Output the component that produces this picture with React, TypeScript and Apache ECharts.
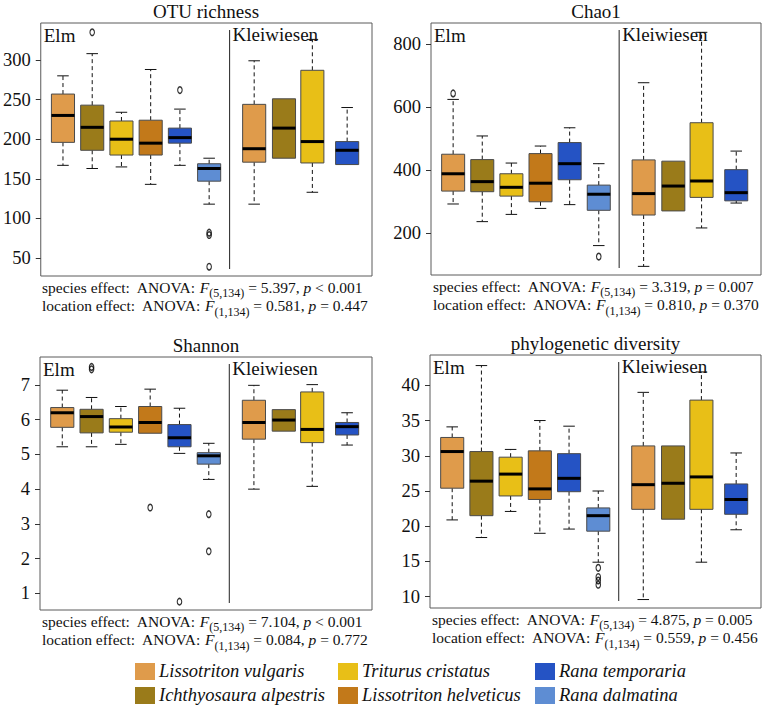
import React, { useEffect, useRef } from 'react';
import * as echarts from 'echarts';

const species = [
  'Lissotriton vulgaris',
  'Ichthyosaura alpestris',
  'Triturus cristatus',
  'Lissotriton helveticus',
  'Rana temporaria',
  'Rana dalmatina',
];
const speciesColors = ['#DF9B4B', '#9A7B1A', '#E8BF17', '#C2791A', '#2553C4', '#5E8DD3'];

const elmSpecies = [0, 1, 2, 3, 4, 5];
const kleiSpecies = [0, 1, 2, 4];
const elmPositions = [1, 2, 3, 4, 5, 6];
const kleiPositions = [7.54, 8.56, 9.53, 10.72];
const dividerPosition = 6.7;

// [min, Q1, median, Q3, max]
const otuElm = [
  [167, 196, 230, 257, 280],
  [163, 186, 215, 243, 308],
  [165, 180, 200, 223, 234],
  [143, 180, 195, 224, 288],
  [167, 195, 202, 214, 238],
  [118, 147, 163, 169, 176],
];
const otuKlei = [
  [118, 171, 188, 244, 299],
  [176, 176, 214, 251, 251],
  [133, 170, 197, 287, 326],
  [168, 168, 186, 197, 240],
];
// [box index (0-5 Elm, 6-9 Kleiwiesen), value]
const otuOutliers = [[1, 335], [4, 262], [5, 82], [5, 79], [5, 39]];
const otuTicks = [50, 100, 150, 200, 250, 300];
const otuStats = ['5.397', '< 0.001', '0.581', '= 0.447'];

const chaoElm = [
  [293, 334, 389, 451, 625],
  [237, 332, 364, 434, 509],
  [260, 318, 346, 389, 423],
  [279, 300, 359, 453, 477],
  [291, 370, 421, 488, 535],
  [161, 273, 324, 353, 421],
];
const chaoKlei = [
  [95, 258, 326, 433, 678],
  [271, 271, 350, 429, 429],
  [217, 314, 366, 551, 838],
  [296, 303, 329, 402, 461],
];
const chaoOutliers = [[0, 644], [5, 126]];
const chaoTicks = [200, 400, 600, 800];
const chaoStats = ['3.319', '= 0.007', '0.810', '= 0.370'];

const shannonElm = [
  [5.22, 5.78, 6.2, 6.35, 6.85],
  [5.22, 5.62, 6.09, 6.3, 6.64],
  [5.29, 5.64, 5.79, 6.03, 6.38],
  [5.61, 5.61, 5.92, 6.38, 6.88],
  [5.03, 5.22, 5.48, 5.86, 6.33],
  [4.28, 4.72, 4.96, 5.05, 5.32],
];
const shannonKlei = [
  [4.0, 5.44, 5.92, 6.56, 6.99],
  [5.67, 5.67, 5.99, 6.29, 6.29],
  [4.08, 5.34, 5.72, 6.8, 7.01],
  [5.27, 5.56, 5.8, 5.92, 6.2],
];
const shannonOutliers = [[1, 7.45], [1, 7.52], [3, 3.47], [4, 0.76], [5, 3.28], [5, 2.21]];
const shannonTicks = [1, 2, 3, 4, 5, 6, 7];
const shannonStats = ['7.104', '< 0.001', '0.084', '= 0.772'];

const pdElm = [
  [20.9, 25.4, 30.6, 32.6, 34.1],
  [18.4, 21.5, 26.4, 30.6, 42.8],
  [22.1, 24.3, 27.4, 29.8, 30.9],
  [19.0, 23.8, 25.3, 30.7, 35.0],
  [19.6, 24.9, 26.8, 30.3, 34.2],
  [14.9, 19.3, 21.5, 22.6, 25.0],
];
const pdKlei = [
  [9.6, 22.4, 25.9, 31.4, 39.0],
  [21.0, 21.0, 26.1, 31.4, 31.4],
  [14.9, 22.4, 27.0, 37.9, 41.9],
  [19.5, 21.7, 23.8, 26.0, 30.4],
];
const pdOutliers = [[5, 14.1], [5, 12.8], [5, 12.3], [5, 11.7]];
const pdTicks = [10, 15, 20, 25, 30, 35, 40];
const pdStats = ['4.875', '= 0.005', '0.559', '= 0.456'];

const SERIF = '"Liberation Serif", "Times New Roman", "DejaVu Serif", serif';

const panels = [
  { title: 'OTU richness', elm: otuElm, klei: otuKlei, outliers: otuOutliers, ticks: otuTicks, stats: otuStats,
    grid: { left: 40, top: 23, width: 332, height: 253 }, yMin: 27.3, yMax: 346.7 },
  { title: 'Chao1', elm: chaoElm, klei: chaoKlei, outliers: chaoOutliers, ticks: chaoTicks, stats: chaoStats,
    grid: { left: 431, top: 23, width: 330, height: 252 }, yMin: 67.6, yMax: 867.6 },
  { title: 'Shannon', elm: shannonElm, klei: shannonKlei, outliers: shannonOutliers, ticks: shannonTicks, stats: shannonStats,
    grid: { left: 40, top: 357, width: 332, height: 253 }, yMin: 0.519, yMax: 7.806 },
  { title: 'phylogenetic diversity', elm: pdElm, klei: pdKlei, outliers: pdOutliers, ticks: pdTicks, stats: pdStats,
    grid: { left: 430, top: 355, width: 331, height: 253 }, yMin: 8.4, yMax: 44.3 },
];

const X_MIN = 0.24;
const X_MAX = 11.57;
const BOX_WIDTH = 0.79;

function buildOption() {
  const allPositions = [...elmPositions, ...kleiPositions];
  const allSpecies = [...elmSpecies, ...kleiSpecies];
  const grids: any[] = [];
  const xAxes: any[] = [];
  const yAxes: any[] = [];
  const series: any[] = [];
  const graphics: any[] = [];

  panels.forEach((p, i) => {
    grids.push({ ...p.grid, show: true, borderColor: '#5a5a5a', borderWidth: 1, backgroundColor: 'transparent' });
    xAxes.push({ gridIndex: i, type: 'value', min: X_MIN, max: X_MAX, show: false });
    yAxes.push({
      gridIndex: i, type: 'value', min: p.yMin, max: p.yMax,
      axisLine: { show: false },
      splitLine: { show: false },
      axisTick: { show: true, inside: false, length: 5, lineStyle: { color: '#333', width: 1 }, customValues: p.ticks },
      axisLabel: { customValues: p.ticks, fontFamily: SERIF, fontSize: 18.5, color: '#111', margin: 10 },
    });

    const boxes = [...p.elm, ...p.klei].map((s, k) => [allPositions[k], ...s, allSpecies[k]]);
    series.push({
      type: 'custom', xAxisIndex: i, yAxisIndex: i, data: boxes,
      encode: { x: 0, y: [1, 2, 3, 4, 5] },
      renderItem: (params: any, api: any) => {
        const x = api.value(0);
        const lo = api.coord([x, api.value(1)]);
        const q1 = api.coord([x, api.value(2)]);
        const md = api.coord([x, api.value(3)]);
        const q3 = api.coord([x, api.value(4)]);
        const hi = api.coord([x, api.value(5)]);
        const w = api.size([BOX_WIDTH, 0])[0];
        const cx = lo[0];
        const color = speciesColors[api.value(6)];
        const children: any[] = [];
        const dash = { stroke: '#111', lineWidth: 1, lineDash: [4, 3] };
        const solid = { stroke: '#111', lineWidth: 1 };
        if (q3[1] - hi[1] > 0.5) {
          children.push({ type: 'line', shape: { x1: cx, y1: q3[1], x2: cx, y2: hi[1] }, style: dash });
          children.push({ type: 'line', shape: { x1: cx - w / 4, y1: hi[1], x2: cx + w / 4, y2: hi[1] }, style: solid });
        }
        if (lo[1] - q1[1] > 0.5) {
          children.push({ type: 'line', shape: { x1: cx, y1: q1[1], x2: cx, y2: lo[1] }, style: dash });
          children.push({ type: 'line', shape: { x1: cx - w / 4, y1: lo[1], x2: cx + w / 4, y2: lo[1] }, style: solid });
        }
        children.push({ type: 'rect', shape: { x: cx - w / 2, y: q3[1], width: w, height: q1[1] - q3[1] },
          style: { fill: color, stroke: '#4a4a4a', lineWidth: 1 } });
        children.push({ type: 'line', shape: { x1: cx - w / 2, y1: md[1], x2: cx + w / 2, y2: md[1] },
          style: { stroke: '#000', lineWidth: 3 } });
        return { type: 'group', children };
      },
    });

    series.push({
      type: 'scatter', xAxisIndex: i, yAxisIndex: i,
      data: p.outliers.map(([k, v]) => [allPositions[k], v]),
      symbol: 'circle', symbolSize: [4.5, 6.5],
      itemStyle: { color: 'rgba(0,0,0,0)', borderColor: '#000', borderWidth: 1.3 },
      silent: true,
    });

    series.push({
      type: 'custom', xAxisIndex: i, yAxisIndex: i, data: [[dividerPosition]],
      encode: { x: 0 },
      renderItem: (params: any, api: any) => {
        const cs = params.coordSys;
        const dx = api.coord([api.value(0), p.yMin])[0];
        const font = `19px ${SERIF}`;
        return {
          type: 'group',
          children: [
            { type: 'line', shape: { x1: dx, y1: cs.y + 7, x2: dx, y2: cs.y + cs.height - 7 }, style: { stroke: '#222', lineWidth: 1 } },
            { type: 'text', style: { text: 'Elm', x: cs.x + 3, y: cs.y + 12, font, fill: '#111', textVerticalAlign: 'middle', verticalAlign: 'middle' } },
            { type: 'text', style: { text: 'Kleiwiesen', x: dx + 3, y: cs.y + 11, font, fill: '#111', textVerticalAlign: 'middle', verticalAlign: 'middle' } },
          ],
        };
      },
    });

    const cx = p.grid.left + p.grid.width / 2;
    graphics.push({
      type: 'text', x: cx, y: p.grid.top - 12,
      style: { text: p.title, font: `19px ${SERIF}`, fill: '#111', textAlign: 'center', align: 'center', textVerticalAlign: 'middle', verticalAlign: 'middle' },
    });

    const richStyles = {
      a: { fontSize: 15.5, fontFamily: SERIF, fill: '#111', color: '#111' },
      i: { fontSize: 15.5, fontFamily: SERIF, fontStyle: 'italic', fill: '#111', color: '#111' },
      s: { fontSize: 12, fontFamily: SERIF, fill: '#111', color: '#111', padding: [12, 0, 0, 0] },
    };
    const lines = [
      `{a|species effect:  ANOVA: }{i|F}{s|(5,134)}{a| = ${p.stats[0]}, }{i|p}{a| ${p.stats[1]}}`,
      `{a|location effect:  ANOVA: }{i|F}{s|(1,134)}{a| = ${p.stats[2]}, }{i|p}{a| ${p.stats[3]}}`,
    ];
    lines.forEach((t, li) => {
      graphics.push({
        type: 'text', x: p.grid.left + 2, y: p.grid.top + p.grid.height + 11 + li * 18.5,
        style: { text: t, rich: richStyles, font: `15.5px ${SERIF}`, fill: '#111', textAlign: 'left', align: 'left', textVerticalAlign: 'middle', verticalAlign: 'middle' },
      });
    });
  });

  const legendSwatchX = [135, 338, 535];
  const legendRowY = [663, 687];
  species.forEach((name, k) => {
    const c = Math.floor(k / 2);
    const r = k % 2;
    graphics.push({ type: 'rect', shape: { x: legendSwatchX[c], y: legendRowY[r], width: 20, height: 17 }, style: { fill: speciesColors[k] } });
    graphics.push({
      type: 'text', x: legendSwatchX[c] + 24, y: legendRowY[r] + 8,
      style: { text: name, font: `italic 18.5px ${SERIF}`, fill: '#111', textVerticalAlign: 'middle', verticalAlign: 'middle' },
    });
  });

  return {
    animation: false,
    backgroundColor: '#fff',
    grid: grids,
    xAxis: xAxes,
    yAxis: yAxes,
    series,
    graphic: graphics,
  };
}

export default function App() {
  const ref = useRef<HTMLDivElement>(null);
  useEffect(() => {
    if (!ref.current) return;
    const chart = echarts.init(ref.current, null, { renderer: 'svg' });
    chart.setOption(buildOption() as any);
    return () => chart.dispose();
  }, []);
  return <div ref={ref} style={{ position: 'absolute', left: 0, top: 0, width: 763, height: 705 }} />;
}
